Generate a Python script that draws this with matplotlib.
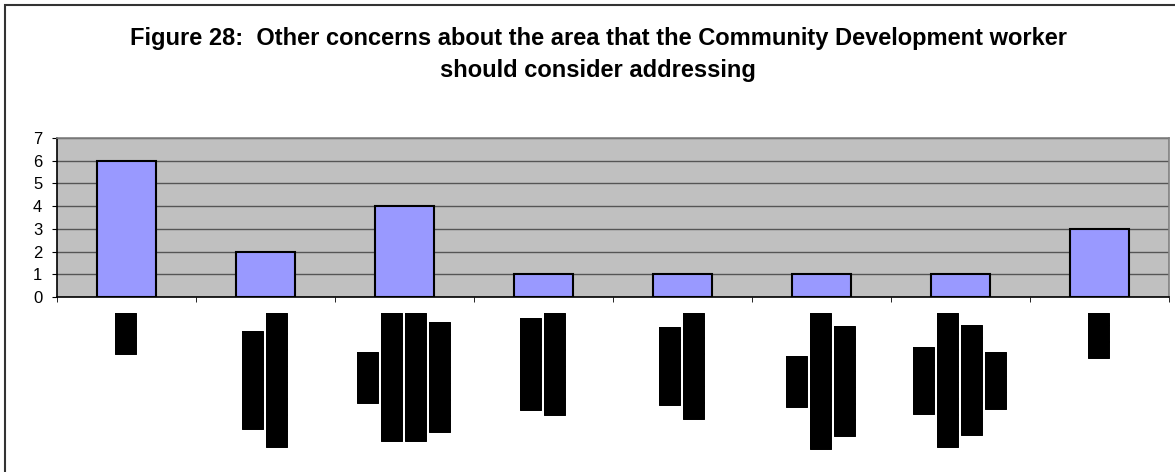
import numpy as np
import matplotlib
matplotlib.use("Agg")
import matplotlib.pyplot as plt
import matplotlib.patheffects as pe
from matplotlib.patches import Rectangle

title = ("Figure 28:  Other concerns about the area that the Community Development worker\n"
         "should consider addressing")
values = [6, 2, 4, 1, 1, 1, 1, 3]
yticks = [0, 1, 2, 3, 4, 5, 6, 7]
# category names are blacked out in the source picture, kept as block characters
labels = [
    ["██▌"],
    ["██████", "████████▎"],
    ["███▏", "███████▉", "███████▉", "██████▊"],
    ["█████▋", "██████▎"],
    ["████▊", "██████▌"],
    ["███▏", "████████▍", "██████▊"],
    ["████▏", "████████▎", "██████▊", "███▌"],
    ["██▊"],
]

W, H = 1175, 472
fig = plt.figure(figsize=(W / 100, H / 100), dpi=100)
ax = fig.add_axes([57 / W, 1 - 297 / H, (1169 - 57) / W, (297 - 138) / H])

x = np.arange(len(values))
ax.bar(x, values, width=0.42, color="#9999FF", edgecolor="black", linewidth=1.5, zorder=3)
ax.set_xlim(-0.5, len(values) - 0.5)
ax.set_ylim(0, 7)
ax.set_facecolor("#C0C0C0")

ax.set_yticks(yticks)
ax.yaxis.grid(True, color="#555555", linewidth=1)
ax.set_axisbelow(True)
ax.tick_params(axis="y", length=3.6, pad=7, labelsize=12, direction="out")
for lab in ax.get_yticklabels():
    lab.set_family("Liberation Sans")

ax.set_xticks(x)
ax.set_xticklabels([])
ax.tick_params(axis="x", which="major", length=0)
ax.set_xticks(np.arange(len(values) + 1) - 0.5, minor=True)
ax.tick_params(axis="x", which="minor", length=3.6, direction="out", color="black")

ax.spines["left"].set_color("black")
ax.spines["bottom"].set_color("black")
ax.spines["top"].set_color("#808080")
ax.spines["right"].set_color("#808080")
for s in ax.spines.values():
    s.set_linewidth(1.2)

# redacted labels: one rotated text per line, lines centred on each other
fs = 15.2
probe = fig.text(0, 0, "█" * 10, fontsize=fs, family="DejaVu Sans")
fig.canvas.draw()
cell = probe.get_window_extent().width / 10
probe.remove()

eighths = {"▏": 1, "▎": 2, "▍": 3, "▌": 4, "▋": 5, "▊": 6, "▉": 7}


def ink_len(s):
    return sum(cell if ch == "█" else cell * eighths[ch] / 8 for ch in s)


px = 72 / 100
for i, lines in enumerate(labels):
    lens = [ink_len(s) for s in lines]
    mid = 16 + max(lens) / 2
    n = len(lines)
    for j, (s, L) in enumerate(zip(lines, lens)):
        dx = (j - (n - 1) / 2) * 24 - 1
        dy = -(mid + L / 2)
        ax.annotate(s, xy=(i, 0), xycoords="data", xytext=(dx * px, dy * px),
                    textcoords="offset points", rotation=90, ha="center", va="bottom",
                    fontsize=fs, family="DejaVu Sans", annotation_clip=False,
                    path_effects=[pe.withStroke(linewidth=0.7, foreground="black")])

fig.text(598 / W, 1 - 26.5 / H, title, ha="center", va="top", fontsize=17,
         fontweight="bold", family="Liberation Sans", linespacing=1.55)

fig.add_artist(Rectangle((5 / W, -0.1), 1.2, 1 - 5 / H + 0.1, transform=fig.transFigure,
                         fill=False, edgecolor="#333333", linewidth=1.5))

fig.savefig("out.png", dpi=100)
